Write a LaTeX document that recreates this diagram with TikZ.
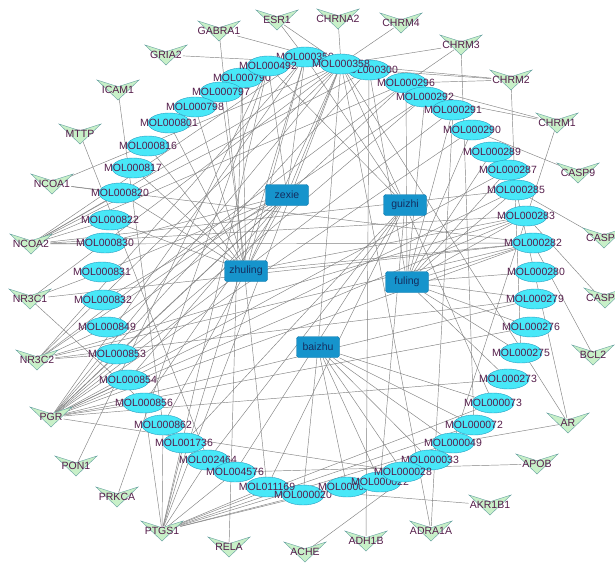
\documentclass[tikz,border=0pt]{standalone}
\usepackage{fontspec}
\setmainfont{Liberation Sans}
\usetikzlibrary{shapes.geometric,backgrounds}
\definecolor{herbfill}{RGB}{22,148,204}
\definecolor{herbdraw}{RGB}{16,120,170}
\definecolor{herbtext}{RGB}{20,45,95}
\definecolor{molfill}{RGB}{72,232,248}
\definecolor{moldraw}{RGB}{40,160,195}
\definecolor{moltext}{RGB}{85,30,75}
\definecolor{vfill}{RGB}{200,240,200}
\definecolor{vdraw}{RGB}{100,160,160}
\definecolor{edgegray}{RGB}{130,130,130}
\tikzset{
  mol/.style={ellipse, draw=moldraw, fill=molfill, line width=0.4pt, minimum width=42, minimum height=20, inner sep=0},
  mtext/.style={text=moltext, inner sep=0},
  herb/.style={rectangle, rounded corners=2.5, draw=herbdraw, fill=herbfill, text=herbtext, minimum width=43, minimum height=21, inner sep=1, line width=0.4pt},
  tlab/.style={text=moltext, inner sep=1},
  edge/.style={draw=edgegray, line width=0.45pt},
  vee/.pic={\path[fill=vfill, draw=vdraw, line width=0.4pt] (-21,-10) -- (0,-3.3) -- (21,-10) -- (0,10) -- cycle;}
}
\newcommand\molnode[4]{\node[mol,label={[mtext]center:#4}] (#1) at (#2,#3) {};}
\newcommand\tgtnode[4]{\pic at (#2,#3) {vee}; \node[tlab] (#1) at (#2,#3) {#4};}
\begin{document}
\begin{tikzpicture}[x=1pt,y=-1pt,font=\fontsize{10.5}{12}\selectfont]
\useasboundingbox (0,0) rectangle (615,562);
\clip (0,0) rectangle (615,562);
% targets
\tgtnode{ESR1}{277}{20}{ESR1}
\tgtnode{GABRA1}{219}{31}{GABRA1}
\tgtnode{GRIA2}{166}{55}{GRIA2}
\tgtnode{ICAM1}{118}{90}{ICAM1}
\tgtnode{MTTP}{80}{134}{MTTP}
\tgtnode{NCOA1}{52}{184}{NCOA1}
\tgtnode{NCOA2}{31}{244}{NCOA2}
\tgtnode{NR3C1}{30}{299}{NR3C1}
\tgtnode{NR3C2}{37}{360}{NR3C2}
\tgtnode{PGR}{51}{417}{PGR}
\tgtnode{PON1}{76}{466}{PON1}
\tgtnode{PRKCA}{117}{497}{PRKCA}
\tgtnode{PTGS1}{162}{531}{PTGS1}
\tgtnode{RELA}{229}{547}{RELA}
\tgtnode{ACHE}{305}{552}{ACHE}
\tgtnode{ADH1B}{366}{541}{ADH1B}
\tgtnode{ADRA1A}{431}{531}{ADRA1A}
\tgtnode{AKR1B1}{490}{505}{AKR1B1}
\tgtnode{APOB}{537}{464}{APOB}
\tgtnode{AR}{568}{423}{AR}
\tgtnode{BCL2}{593}{355}{BCL2}
\pic at (605,298) {vee}; \node[tlab,anchor=west] (CASPb) at (585,298) {CASP};
\pic at (604,238) {vee}; \node[tlab,anchor=west] (CASPa) at (585,238) {CASP};
\tgtnode{CASP9}{578}{173}{CASP9}
\tgtnode{CHRM1}{557}{123}{CHRM1}
\tgtnode{CHRM2}{511}{80}{CHRM2}
\tgtnode{CHRM3}{461}{45}{CHRM3}
\tgtnode{CHRM4}{401}{23}{CHRM4}
\tgtnode{CHRNA2}{338}{19}{CHRNA2}
% compounds
\molnode{m790}{242}{78}{MOL000790}
\molnode{m797}{221}{92}{MOL000797}
\molnode{m798}{195}{107}{MOL000798}
\molnode{m801}{169}{123}{MOL000801}
\molnode{m816}{148}{146}{MOL000816}
\molnode{m817}{133}{168}{MOL000817}
\molnode{m820}{120}{193}{MOL000820}
\molnode{m822}{110}{220}{MOL000822}
\molnode{m830}{105}{243}{MOL000830}
\molnode{m831}{102}{272}{MOL000831}
\molnode{m832}{103}{300}{MOL000832}
\molnode{m849}{107}{327}{MOL000849}
\molnode{m853}{117}{354}{MOL000853}
\molnode{m854}{128}{380}{MOL000854}
\molnode{m856}{144}{403}{MOL000856}
\molnode{m862}{163}{425}{MOL000862}
\molnode{m1736}{184}{443}{MOL001736}
\molnode{m2464}{208}{460}{MOL002464}
\molnode{m4576}{235}{472}{MOL004576}
\node[mol] (m11169) at (267,487) {};
\molnode{m020}{303}{495}{MOL000020}
\node[mtext] (l11169) at (m11169.center) {MOL011169};
\molnode{m021}{347}{487}{MOL000021}
\molnode{m022}{380}{482}{MOL000022}
\molnode{m350}{305}{57}{MOL000350}
\molnode{m492}{268}{66}{MOL000492}
\molnode{m300}{369}{70}{MOL000300}
\molnode{m358}{341}{64}{MOL000358}
\molnode{m296}{406}{83}{MOL000296}
\molnode{m292}{425}{97}{MOL000292}
\molnode{m291}{453}{110}{MOL000291}
\molnode{m290}{472}{130}{MOL000290}
\molnode{m289}{492}{152}{MOL000289}
\molnode{m287}{508}{170}{MOL000287}
\molnode{m285}{516}{190}{MOL000285}
\molnode{m283}{526}{216}{MOL000283}
\molnode{m282}{533}{243}{MOL000282}
\molnode{m280}{536}{272}{MOL000280}
\molnode{m279}{535}{299}{MOL000279}
\molnode{m276}{531}{327}{MOL000276}
\molnode{m275}{521}{353}{MOL000275}
\molnode{m273}{508}{379}{MOL000273}
\molnode{m073}{493}{403}{MOL000073}
\molnode{m072}{474}{425}{MOL000072}
\molnode{m049}{453}{443}{MOL000049}
\molnode{m033}{430}{460}{MOL000033}
\molnode{m028}{403}{472}{MOL000028}
% herbs
\node[herb] (zexie) at (287,195) {zexie};
\node[herb] (guizhi) at (405,205) {guizhi};
\node[herb] (zhuling) at (246,271) {zhuling};
\node[herb] (fuling) at (407,282) {fuling};
\node[herb] (baizhu) at (318,347) {baizhu};
% edges
\begin{scope}[on background layer]
\fill[white] (0,0) rectangle (615,562);
\foreach \a/\b in {fuling/m273,fuling/m275,fuling/m276,fuling/m279,fuling/m280,fuling/m282,fuling/m283,fuling/m285,fuling/m287,fuling/m289,fuling/m290,fuling/m291,fuling/m292,fuling/m296,fuling/m300,
zhuling/m282,zhuling/m283,zhuling/m358,zhuling/m790,zhuling/m797,zhuling/m798,zhuling/m801,zhuling/m816,zhuling/m817,zhuling/m820,zhuling/m822,zhuling/m350,
zexie/m350,zexie/m358,zexie/m830,zexie/m831,zexie/m832,zexie/m849,zexie/m853,zexie/m854,zexie/m856,zexie/m862,zexie/m492,
guizhi/m358,guizhi/m492,guizhi/m073,guizhi/m1736,guizhi/m2464,guizhi/m4576,guizhi/m11169,guizhi/m350,guizhi/m022,
baizhu/m020,baizhu/m021,baizhu/m022,baizhu/m028,baizhu/m033,baizhu/m049,baizhu/m072,baizhu/m073,baizhu/m358}
  \draw[edge] (\a) -- (\b);
\foreach \a/\b in {ESR1/m350,ESR1/m358,CHRNA2/m358,CHRM4/m358,CHRM3/m358,CHRM3/m296,CHRM3/m072,
CHRM2/m358,CHRM2/m300,CHRM2/m296,CHRM2/m275,CHRM1/m292,CHRM1/m296,CHRM1/m049,CASP9/m290,
CASPa/m285,CASPb/m283,BCL2/m282,AR/m049,AR/m285,AR/m358,APOB/m4576,AKR1B1/m11169,
ADRA1A/m358,ADRA1A/m291,ADH1B/m300,ACHE/m033,RELA/m790,
PTGS1/m358,PTGS1/m350,PTGS1/m492,PTGS1/m1736,PTGS1/m2464,PTGS1/m4576,PTGS1/m11169,PTGS1/m073,PTGS1/m049,PTGS1/m072,PTGS1/m028,PTGS1/m020,PTGS1/m862,PTGS1/m856,
PRKCA/m492,PON1/m492,
PGR/m358,PGR/m350,PGR/m283,PGR/m282,PGR/m279,PGR/m285,PGR/m287,PGR/m296,PGR/m300,PGR/m292,PGR/m290,PGR/m291,PGR/m273,PGR/m276,PGR/m028,PGR/m854,PGR/m853,PGR/m856,
NR3C2/m358,NR3C2/m350,NR3C2/m282,NR3C2/m283,NR3C2/m279,NR3C2/m292,NR3C2/m296,NR3C2/m853,NR3C2/m849,
NR3C1/m358,NR3C1/m282,NR3C1/m856,NR3C1/m831,
NCOA2/m358,NCOA2/m350,NCOA2/m282,NCOA2/m283,NCOA2/m285,NCOA2/m296,NCOA2/m300,NCOA2/m822,NCOA2/m830,NCOA2/m820,
NCOA1/m358,NCOA1/m282,NCOA1/m820,MTTP/m2464,ICAM1/m862,GRIA2/m358,GABRA1/m358,GABRA1/m11169}
  \draw[edge] (\a) -- (\b);
\end{scope}
\end{tikzpicture}
\end{document}
